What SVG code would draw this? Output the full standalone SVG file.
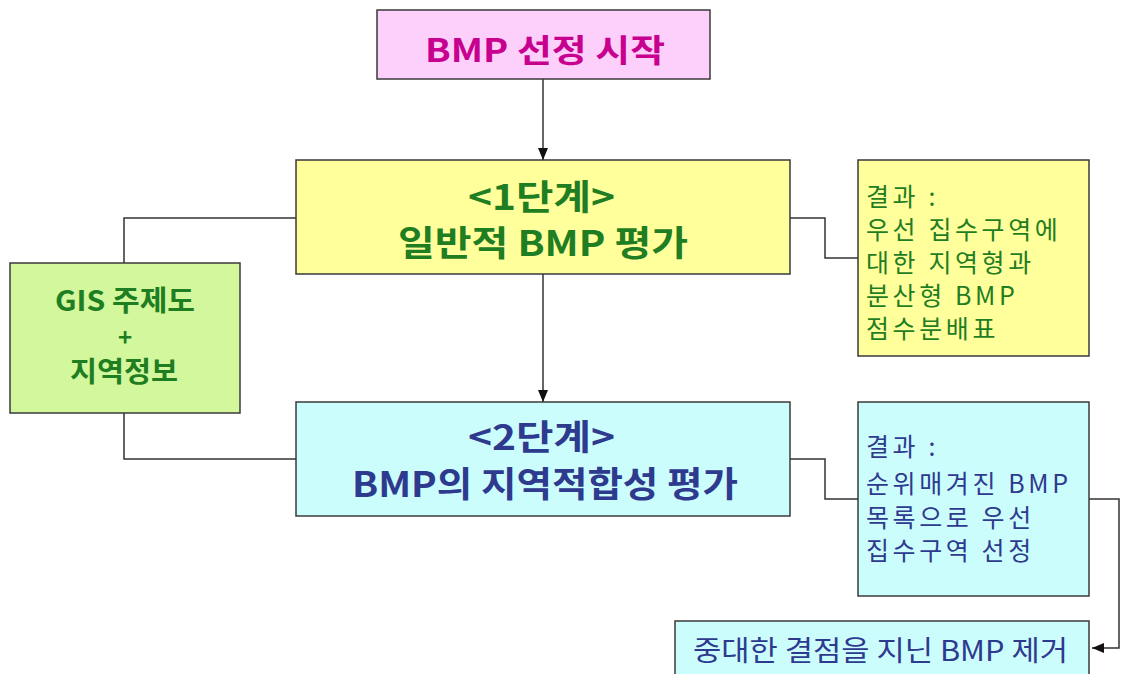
<svg xmlns="http://www.w3.org/2000/svg" width="1122" height="674" viewBox="0 0 1122 674">
  <defs>
    <marker id="arr" viewBox="0 0 12 10" refX="12" refY="5" markerWidth="12" markerHeight="10" markerUnits="userSpaceOnUse" orient="auto">
      <path d="M0,0 L12,5 L0,10 Z" fill="#111"/>
    </marker>
    <style>
      .box { stroke: #3a3a3a; stroke-width: 1.5; }
      .t { font-family: "Noto Sans CJK KR", "Noto Sans", sans-serif; }
      .b { font-weight: bold; }
      .line { fill: none; stroke: #333; stroke-width: 1.5; }
      .res { font-size: 25px; letter-spacing: 3.6px; }
    </style>
  </defs>
  <rect width="1122" height="674" fill="#ffffff"/>

  <g id="connectors">
    <line class="line" x1="543" y1="79" x2="543" y2="160" marker-end="url(#arr)"/>
    <line class="line" x1="543" y1="274" x2="543" y2="402" marker-end="url(#arr)"/>
    <polyline class="line" points="296,218 124,218 124,263"/>
    <polyline class="line" points="124,413 124,459 296,459"/>
    <polyline class="line" points="790,218 825,218 825,258 858,258"/>
    <polyline class="line" points="790,459 825,459 825,499 858,499"/>
    <polyline class="line" points="1089,499 1119,499 1119,648 1092,648" marker-end="url(#arr)"/>
  </g>

  <g id="start">
    <rect class="box" x="377" y="10" width="333" height="69" fill="#fdd0fb"/>
    <text class="t b" x="425" y="62" font-size="32" fill="#c8008f" textLength="240" lengthAdjust="spacingAndGlyphs">BMP 선정 시작</text>
  </g>

  <g id="step1">
    <rect class="box" x="296" y="160" width="494" height="114" fill="#ffff9c"/>
    <text class="t b" x="468" y="210" font-size="35" fill="#1f7d22" textLength="147" lengthAdjust="spacingAndGlyphs">&lt;1단계&gt;</text>
    <text class="t b" x="398" y="256" font-size="35" fill="#1f7d22" textLength="290" lengthAdjust="spacingAndGlyphs">일반적 BMP 평가</text>
  </g>

  <g id="step2">
    <rect class="box" x="296" y="402" width="494" height="114" fill="#ccfdfd"/>
    <text class="t b" x="468" y="450" font-size="35" fill="#2e3a8e" textLength="147" lengthAdjust="spacingAndGlyphs">&lt;2단계&gt;</text>
    <text class="t b" x="352" y="497" font-size="35" fill="#2e3a8e" textLength="386" lengthAdjust="spacingAndGlyphs">BMP의 지역적합성 평가</text>
  </g>

  <g id="gis">
    <rect class="box" x="10" y="263" width="230" height="150" fill="#d2f79c"/>
    <text class="t b" x="55" y="311" font-size="28" fill="#1f7d22" textLength="140" lengthAdjust="spacingAndGlyphs">GIS 주제도</text>
    <text class="t b" x="125" y="346" font-size="24" fill="#1f7d22" text-anchor="middle">+</text>
    <text class="t b" x="70" y="382" font-size="28" fill="#1f7d22" textLength="108" lengthAdjust="spacingAndGlyphs">지역정보</text>
  </g>

  <g id="result1">
    <rect class="box" x="858" y="160" width="231" height="196" fill="#ffff9c"/>
    <g class="t res" fill="#1f7d22">
      <text x="866" y="206">결과 :</text>
      <text x="866" y="239">우선 집수구역에</text>
      <text x="866" y="272">대한 지역형과</text>
      <text x="866" y="305">분산형 BMP</text>
      <text x="866" y="338">점수분배표</text>
    </g>
  </g>

  <g id="result2">
    <rect class="box" x="858" y="402" width="231" height="194" fill="#ccfdfd"/>
    <g class="t res" fill="#2e3a8e">
      <text x="866" y="456">결과 :</text>
      <text x="866" y="493">순위매겨진 BMP</text>
      <text x="866" y="527">목록으로 우선</text>
      <text x="866" y="560">집수구역 선정</text>
    </g>
  </g>

  <g id="remove">
    <rect class="box" x="675" y="621" width="414" height="60" fill="#ccfdfd"/>
    <text class="t" x="693" y="661" font-size="28" fill="#2e3a8e" textLength="375" lengthAdjust="spacingAndGlyphs">중대한 결점을 지닌 BMP 제거</text>
  </g>
</svg>
